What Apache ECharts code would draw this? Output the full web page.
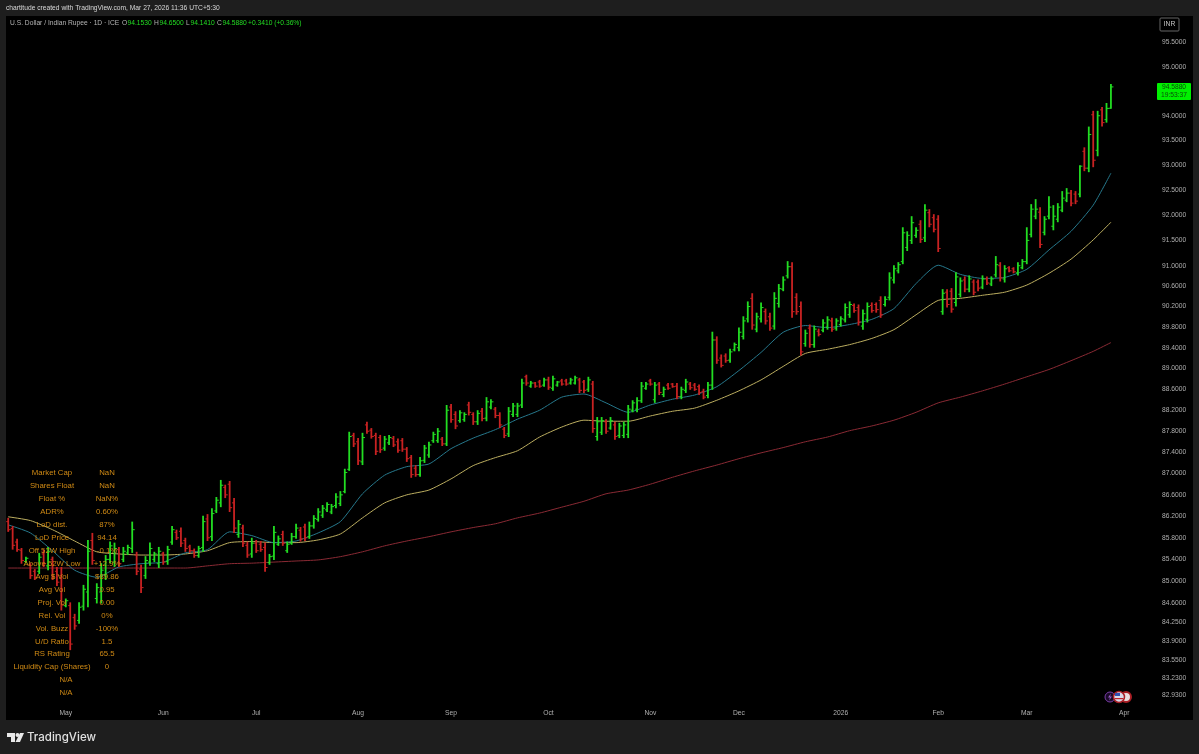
<!DOCTYPE html>
<html><head><meta charset="utf-8">
<style>html,body{margin:0;padding:0;background:#1e1e1e}#c{width:1199px;height:754px}</style>
<script src="https://cdn.jsdelivr.net/npm/echarts@6/dist/echarts.min.js"></script>
</head><body><div id="c"></div>
<script>
const categories = [
"Apr 14","Apr 15","Apr 16","Apr 17","Apr 18","Apr 21","Apr 22","Apr 23","Apr 24","Apr 25","Apr 28","Apr 29","Apr 30",
"May 1","May 2","May 5","May 6","May 7","May 8","May 9","May 12","May 13","May 14","May 15","May 16","May 19","May 20","May 21","May 22","May 23","May 26","May 27","May 28","May 29","May 30",
"Jun 2","Jun 3","Jun 4","Jun 5","Jun 6","Jun 9","Jun 10","Jun 11","Jun 12","Jun 13","Jun 16","Jun 17","Jun 18","Jun 19","Jun 20","Jun 23","Jun 24","Jun 25","Jun 26","Jun 27","Jun 30",
"Jul 1","Jul 2","Jul 3","Jul 4","Jul 7","Jul 8","Jul 9","Jul 10","Jul 11","Jul 14","Jul 15","Jul 16","Jul 17","Jul 18","Jul 21","Jul 22","Jul 23","Jul 24","Jul 25","Jul 28","Jul 29","Jul 30","Jul 31",
"Aug 1","Aug 4","Aug 5","Aug 6","Aug 7","Aug 8","Aug 11","Aug 12","Aug 13","Aug 14","Aug 15","Aug 18","Aug 19","Aug 20","Aug 21","Aug 22","Aug 25","Aug 26","Aug 27","Aug 28","Aug 29",
"Sep 1","Sep 2","Sep 3","Sep 4","Sep 5","Sep 8","Sep 9","Sep 10","Sep 11","Sep 12","Sep 15","Sep 16","Sep 17","Sep 18","Sep 19","Sep 22","Sep 23","Sep 24","Sep 25","Sep 26","Sep 29","Sep 30",
"Oct 1","Oct 2","Oct 3","Oct 6","Oct 7","Oct 8","Oct 9","Oct 10","Oct 13","Oct 14","Oct 15","Oct 16","Oct 17","Oct 20","Oct 21","Oct 22","Oct 23","Oct 24","Oct 27","Oct 28","Oct 29","Oct 30","Oct 31",
"Nov 3","Nov 4","Nov 5","Nov 6","Nov 7","Nov 10","Nov 11","Nov 12","Nov 13","Nov 14","Nov 17","Nov 18","Nov 19","Nov 20","Nov 21","Nov 24","Nov 25","Nov 26","Nov 27","Nov 28",
"Dec 1","Dec 2","Dec 3","Dec 4","Dec 5","Dec 8","Dec 9","Dec 10","Dec 11","Dec 12","Dec 15","Dec 16","Dec 17","Dec 18","Dec 19","Dec 22","Dec 23","Dec 24","Dec 25","Dec 26","Dec 29","Dec 30","Dec 31",
"Jan 1","Jan 2","Jan 5","Jan 6","Jan 7","Jan 8","Jan 9","Jan 12","Jan 13","Jan 14","Jan 15","Jan 16","Jan 19","Jan 20","Jan 21","Jan 22","Jan 23","Jan 26","Jan 27","Jan 28","Jan 29","Jan 30",
"Feb 2","Feb 3","Feb 4","Feb 5","Feb 6","Feb 9","Feb 10","Feb 11","Feb 12","Feb 13","Feb 16","Feb 17","Feb 18","Feb 19","Feb 20","Feb 23","Feb 24","Feb 25","Feb 26","Feb 27",
"Mar 2","Mar 3","Mar 4","Mar 5","Mar 6","Mar 9","Mar 10","Mar 11","Mar 12","Mar 13","Mar 16","Mar 17","Mar 18","Mar 19","Mar 20","Mar 23","Mar 24","Mar 25","Mar 26","Mar 27","Mar 30","Mar 31",
"Apr 1","Apr 2","Apr 3","Apr 6","Apr 7","Apr 8","Apr 9"];
const monthLabels = {"May 1":"May","Jun 2":"Jun","Jul 1":"Jul","Aug 1":"Aug","Sep 1":"Sep","Oct 1":"Oct","Nov 3":"Nov","Dec 1":"Dec","Jan 1":"2026","Feb 2":"Feb","Mar 2":"Mar","Apr 1":"Apr"};
const priceTicks = [95.5,95,94,93.5,93,92.5,92,91.5,91,90.6,90.2,89.8,89.4,89,88.6,88.2,87.8,87.4,87,86.6,86.2,85.8,85.4,85,84.6,84.25,83.9,83.55,83.23,82.93];
const highs = [
86.17,86.02,85.78,85.61,85.45,85.33,85.22,85.52,85.58,85.63,
85.45,85.26,85.26,84.68,84.61,84.40,84.61,84.93,85.76,85.89,
84.96,85.33,85.48,85.73,85.71,85.63,85.63,85.67,86.10,85.54,
85.30,85.46,85.71,85.54,85.63,85.54,85.65,86.02,85.95,85.99,
85.80,85.67,85.60,85.65,86.21,86.24,86.35,86.56,86.88,86.79,
86.86,86.54,86.13,86.04,85.73,85.80,85.76,85.74,85.71,85.50,
86.02,85.84,85.93,85.73,85.89,86.06,86.00,86.06,86.10,86.22,
86.35,86.41,86.46,86.43,86.63,86.67,87.09,87.79,87.77,87.67,
87.77,87.98,87.86,87.77,87.73,87.71,87.73,87.71,87.66,87.67,
87.50,87.35,87.16,87.31,87.54,87.60,87.79,87.86,87.69,88.30,
88.32,88.18,88.20,88.16,88.36,88.16,88.20,88.24,88.45,88.41,
88.26,88.16,87.88,88.26,88.34,88.34,88.80,88.88,88.76,88.74,
88.78,88.82,88.84,88.86,88.76,88.80,88.80,88.82,88.86,88.82,
88.78,88.84,88.76,88.07,88.07,88.03,88.07,87.98,87.96,87.98,
88.30,88.39,88.45,88.74,88.74,88.80,88.74,88.74,88.65,88.72,
88.72,88.72,88.65,88.80,88.74,88.72,88.69,88.61,88.74,89.71,
89.62,89.27,89.29,89.38,89.50,89.79,90.01,90.30,90.46,90.08,
90.28,90.16,90.08,90.48,90.64,90.79,91.09,91.07,90.46,90.30,
89.75,89.85,89.83,89.77,89.95,90.01,89.98,89.97,90.01,90.26,
90.30,90.26,90.24,90.14,90.28,90.28,90.28,90.40,90.40,90.87,
91.01,91.07,91.76,91.68,91.98,91.76,91.90,92.22,92.12,92.02,
92.00,90.54,90.54,90.56,90.87,90.77,90.79,90.81,90.73,90.73,
90.81,90.79,90.79,91.19,91.07,91.01,90.99,90.97,91.07,91.13,
91.76,92.22,92.32,92.16,91.98,92.38,92.20,92.24,92.48,92.54,
92.50,92.48,93.00,93.36,93.78,94.10,94.10,94.18,94.26,94.65];
const lows = [
85.91,85.58,85.54,85.32,85.33,85.04,85.02,85.13,85.26,85.20,
85.02,84.91,84.46,84.52,83.74,84.11,84.22,84.46,84.52,85.30,
84.59,84.59,85.02,85.33,85.26,85.26,85.35,85.48,85.52,85.11,
84.78,85.04,85.28,85.35,85.24,85.30,85.30,85.67,85.76,85.63,
85.54,85.52,85.43,85.43,85.54,85.74,85.74,86.26,86.37,86.54,
86.28,85.89,85.80,85.63,85.43,85.43,85.52,85.54,85.17,85.30,
85.39,85.65,85.65,85.52,85.67,85.78,85.73,85.74,85.78,85.97,
86.10,86.17,86.28,86.24,86.35,86.39,86.63,87.05,87.50,87.16,
87.16,87.75,87.66,87.35,87.39,87.43,87.54,87.50,87.39,87.41,
87.22,86.92,86.94,86.94,87.20,87.30,87.58,87.58,87.52,87.52,
87.96,87.84,87.96,87.98,88.10,87.92,87.92,87.99,87.99,88.22,
88.05,87.86,87.67,87.69,88.07,88.07,88.24,88.67,88.63,88.63,
88.63,88.65,88.59,88.57,88.65,88.67,88.67,88.69,88.69,88.53,
88.53,88.55,87.77,87.62,87.73,87.75,87.83,87.64,87.67,87.67,
87.67,88.16,88.16,88.34,88.59,88.67,88.34,88.49,88.45,88.59,
88.63,88.41,88.41,88.53,88.59,88.57,88.49,88.41,88.43,88.59,
89.09,89.02,89.11,89.11,89.33,89.33,89.56,89.89,89.75,89.70,
89.89,89.85,89.73,89.75,90.18,90.50,90.75,89.98,90.04,89.25,
89.42,89.40,89.40,89.62,89.70,89.75,89.71,89.73,89.81,89.89,
89.98,90.08,89.83,89.75,89.89,90.08,90.08,89.98,90.20,90.32,
90.65,90.85,91.03,91.29,91.43,91.55,91.45,91.47,91.76,91.66,
91.27,90.04,90.18,90.08,90.20,90.38,90.48,90.48,90.42,90.50,
90.54,90.62,90.60,90.77,90.69,90.67,90.87,90.85,90.81,90.93,
91.03,91.56,91.92,91.35,91.60,91.92,91.70,91.86,92.06,92.26,
92.18,92.22,92.36,92.88,92.86,92.96,93.18,93.78,93.86,94.141];
const opens = [
86.10,85.97,85.72,85.57,85.36,85.30,85.18,85.18,85.50,85.28,
85.40,85.18,85.10,84.55,84.55,84.33,84.28,84.54,84.80,85.75,
84.68,84.80,85.12,85.40,85.35,85.58,85.40,85.52,85.60,85.48,
85.22,85.10,85.35,85.40,85.32,85.50,85.36,85.72,85.90,85.92,
85.75,85.63,85.56,85.47,85.62,86.15,85.82,86.30,86.45,86.74,
86.80,86.45,85.86,85.98,85.66,85.50,85.70,85.68,85.62,85.34,
85.46,85.68,85.86,85.56,85.70,85.82,85.94,86.00,85.82,86.02,
86.14,86.22,86.32,86.28,86.40,86.44,86.66,87.08,87.72,87.60,
87.22,87.92,87.82,87.72,87.68,87.48,87.58,87.66,87.60,87.62,
87.46,87.30,87.10,86.98,87.25,87.35,87.62,87.62,87.65,87.56,
88.26,88.12,88.00,88.02,88.30,88.12,87.98,88.18,88.05,88.26,
88.22,88.10,87.84,87.75,88.12,88.12,88.30,88.84,88.66,88.72,
88.74,88.68,88.78,88.62,88.68,88.76,88.76,88.72,88.72,88.78,
88.74,88.60,88.70,87.70,87.78,87.98,87.86,87.92,87.72,87.72,
87.74,88.20,88.22,88.38,88.62,88.76,88.40,88.70,88.50,88.68,
88.70,88.66,88.46,88.58,88.70,88.68,88.65,88.56,88.48,88.68,
89.55,89.20,89.24,89.16,89.36,89.40,89.62,89.96,90.36,89.76,
89.96,90.10,90.00,89.82,90.26,90.54,90.80,90.98,90.38,90.20,
89.48,89.78,89.46,89.72,89.74,89.80,89.92,89.78,89.85,89.94,
90.04,90.22,90.18,89.82,89.95,90.22,90.24,90.32,90.24,90.38,
90.72,90.90,91.08,91.36,91.50,91.60,91.82,91.55,92.05,91.95,
91.92,90.10,90.48,90.50,90.28,90.44,90.72,90.54,90.68,90.68,
90.58,90.74,90.64,90.82,91.00,90.74,90.96,90.94,90.86,90.96,
91.08,91.62,91.98,92.06,91.66,91.98,91.78,91.92,92.10,92.30,
92.44,92.42,92.42,93.28,92.94,94.02,93.30,94.12,93.92,94.153];
const closes = [
85.95,85.66,85.58,85.38,85.42,85.10,85.06,85.44,85.32,85.55,
85.08,84.98,84.56,84.64,83.85,84.18,84.52,84.85,85.55,85.38,
84.88,85.20,85.40,85.65,85.60,85.32,85.55,85.62,85.95,85.18,
84.88,85.38,85.60,85.50,85.55,85.35,85.58,85.95,85.80,85.70,
85.60,85.56,85.47,85.60,86.10,85.80,86.25,86.50,86.78,86.60,
86.36,85.98,86.05,85.70,85.48,85.70,85.56,85.58,85.25,85.45,
85.90,85.78,85.70,85.68,85.82,85.98,85.78,85.80,86.02,86.16,
86.28,86.35,86.42,86.38,86.56,86.60,87.02,87.70,87.56,87.24,
87.68,87.80,87.70,87.42,87.45,87.65,87.68,87.54,87.44,87.46,
87.28,86.98,86.98,87.24,87.48,87.54,87.74,87.80,87.56,88.20,
88.02,87.90,88.15,88.12,88.16,87.98,88.14,88.04,88.36,88.36,
88.10,87.92,87.72,88.18,88.28,88.28,88.72,88.72,88.72,88.66,
88.66,88.78,88.64,88.80,88.74,88.70,88.70,88.78,88.82,88.58,
88.58,88.78,87.85,87.98,88.00,87.80,88.00,87.70,87.90,87.92,
88.22,88.34,88.38,88.66,88.70,88.70,88.68,88.54,88.60,88.62,
88.65,88.46,88.60,88.74,88.63,88.60,88.54,88.45,88.68,89.55,
89.16,89.06,89.15,89.32,89.46,89.70,89.92,90.20,89.84,90.00,
90.18,89.92,89.78,90.36,90.55,90.72,90.98,90.10,90.10,89.32,
89.68,89.46,89.76,89.66,89.88,89.94,89.76,89.92,89.96,90.18,
90.24,90.12,89.90,90.06,90.20,90.12,90.14,90.04,90.34,90.76,
90.94,91.02,91.65,91.60,91.85,91.70,91.52,92.10,91.82,91.72,
91.34,90.46,90.24,90.15,90.78,90.70,90.54,90.74,90.48,90.56,
90.74,90.66,90.74,91.02,90.76,90.94,90.90,90.88,91.00,91.08,
91.50,92.12,92.12,91.42,91.92,92.16,91.98,92.16,92.34,92.44,
92.24,92.28,92.98,92.94,93.62,93.10,94.00,93.86,94.15,94.588];
const maBars = [0,5,10,15,20,25,30,35,40,45,50,55,60,65,70,75,80,85,90,95,100,105,110,115,120,125,130,135,140,145,150,155,160,165,170,175,180,185,190,195,200,205,210,215,220,225,230,235,240,245,249];
const maFast = [86.04,85.89,85.56,85.20,85.07,85.26,85.32,85.35,85.52,85.58,85.91,85.84,85.71,85.74,85.89,86.10,86.62,86.97,87.13,87.18,87.47,87.67,87.83,88.03,88.20,88.45,88.51,88.34,88.16,88.30,88.41,88.49,88.65,88.96,89.31,89.70,89.83,89.79,89.85,89.95,90.16,90.65,91.01,90.83,90.75,90.77,90.93,91.31,91.68,92.20,92.84];
const maMid = [86.19,86.12,85.95,85.74,85.54,85.50,85.48,85.48,85.50,85.56,85.71,85.73,85.71,85.71,85.76,85.87,86.17,86.45,86.60,86.69,86.90,87.15,87.30,87.43,87.69,87.88,88.01,87.99,87.99,88.09,88.18,88.24,88.39,88.57,88.78,89.04,89.29,89.37,89.46,89.58,89.75,90.04,90.32,90.36,90.42,90.48,90.62,90.85,91.13,91.51,91.86];
const maSlow = [85.24,85.24,85.24,85.24,85.24,85.24,85.24,85.24,85.24,85.28,85.32,85.33,85.35,85.37,85.39,85.45,85.54,85.65,85.74,85.82,85.91,85.99,86.06,86.17,86.26,86.37,86.48,86.62,86.69,86.80,86.93,87.05,87.16,87.28,87.39,87.49,87.60,87.69,87.81,87.90,88.01,88.16,88.34,88.45,88.57,88.70,88.84,88.98,89.15,89.33,89.50];
const statLabels = ["Market Cap","Shares Float","Float %","ADR%","LoD dist.","LoD Price","Off 52W High","Above 52W Low","Avg $ Vol","Avg Vol","Proj. Vol","Rel. Vol","Vol. Buzz","U/D Ratio","RS Rating","Liquidity Cap (Shares)"];
const statValues = ["NaN","NaN","NaN%","0.60%","87%","94.14","-0.1%","+12.9%","$89.86","0.95","0.00","0%","-100%","1.5","65.5","0"];

const FONT = '"Liberation Sans", Arial, sans-serif';
const GREEN = '#22dd22', RED = '#c92222', ORANGE = '#d08a14';
const SMALL = '6.7px '+FONT;
const rows = highs.map((h,i)=>[i,opens[i],h,lows[i],closes[i]]);

function renderBar(params, api){
  const i = api.value(0);
  const o = api.coord([i, api.value(1)]), h = api.coord([i, api.value(2)]);
  const l = api.coord([i, api.value(3)]), c = api.coord([i, api.value(4)]);
  const color = api.value(4) >= api.value(1) ? GREEN : RED;
  return {type:'group', children:[
    {type:'line', shape:{x1:h[0],y1:h[1],x2:l[0],y2:l[1]}, style:{stroke:color,lineWidth:1.8,fill:null}},
    {type:'line', shape:{x1:o[0]-2,y1:o[1],x2:o[0],y2:o[1]}, style:{stroke:color,lineWidth:1}},
    {type:'line', shape:{x1:c[0],y1:c[1],x2:c[0]+2.5,y2:c[1]}, style:{stroke:color,lineWidth:1}}
  ]};
}
const maSeries = (vals,color)=>({type:'line',data:maBars.map((b,j)=>[b,vals[j]]),showSymbol:false,symbol:'none',smooth:0.2,
  lineStyle:{color,width:1},z:3,silent:true});
const txt = (x,y,text,fill,extra)=>({type:'text',z:20,style:Object.assign({x,y,text,fill,font:SMALL,verticalAlign:'middle'},extra||{})});

const graphics = [
  {type:'rect',z:-10,shape:{x:6,y:16,width:1187,height:704},style:{fill:'#000'}},
  txt(6,8.5,'chartitude created with TradingView.com, Mar 27, 2026 11:36 UTC+5:30','#d8d8d8'),
  txt(10,23.5,'U.S. Dollar / Indian Rupee · 1D · ICE','#b4b4b4'),
  txt(122,23.5,'O','#b4b4b4'), txt(127.5,23.5,'94.1530',GREEN),
  txt(154,23.5,'H','#b4b4b4'), txt(159.5,23.5,'94.6500',GREEN),
  txt(186,23.5,'L','#b4b4b4'), txt(190.5,23.5,'94.1410',GREEN),
  txt(217,23.5,'C','#b4b4b4'), txt(222.5,23.5,'94.5880',GREEN),
  txt(248,23.5,'+0.3410 (+0.36%)',GREEN),
  {type:'rect',z:20,shape:{x:1160,y:18,width:19,height:13,r:1},style:{fill:'#000',stroke:'#666',lineWidth:1}},
  Object.assign(txt(1169.5,24.5,'INR','#c8c8c8',{align:'center'}),{z:21}),
  {type:'rect',z:20,shape:{x:1157,y:83,width:34,height:17,r:1},style:{fill:'#00f000'}},
  Object.assign(txt(1174,87.5,'94.5880','#0a4a0a',{align:'center'}),{z:21}),
  Object.assign(txt(1174,95.5,'19:53:37','#0a4a0a',{align:'center'}),{z:21}),
  // provider logo
  {type:'polygon',z:20,shape:{points:[[7,733],[15,733],[15,742],[11,742],[11,737],[7,737]]},style:{fill:'#e8e8e8'}},
  {type:'circle',z:20,shape:{cx:17.5,cy:735,r:2},style:{fill:'#e8e8e8'}},
  {type:'polygon',z:20,shape:{points:[[20,733],[24,733],[20,742],[15.5,742]]},style:{fill:'#e8e8e8'}},
  {type:'text',z:20,style:{x:27,y:737.5,text:'TradingView',fill:'#e0e0e0',font:'500 11.5px Inter, '+FONT,verticalAlign:'middle'}},
  // exchange badges
  {type:'circle',z:20,shape:{cx:1110,cy:697,r:5},style:{fill:'#1a0a28',stroke:'#7a3ea8',lineWidth:1}},
  {type:'polygon',z:21,shape:{points:[[1111,693.5],[1108,697.5],[1110,697.5],[1109,700.5],[1112,696.5],[1110,696.5]]},style:{fill:'#9a5cc8'}},
  {type:'circle',z:21,shape:{cx:1126,cy:697,r:5},style:{fill:'#e8dede',stroke:'#a81e24',lineWidth:2}},
  {type:'circle',z:22,shape:{cx:1119,cy:697,r:5.5},style:{fill:'#d8d8e8',stroke:'#a81e24',lineWidth:1.5}},
  {type:'rect',z:23,shape:{x:1115,y:693,width:5,height:3},style:{fill:'#3050b0'}},
  {type:'rect',z:23,shape:{x:1114.5,y:698,width:9,height:1.2},style:{fill:'#c02028'}},
];
const rowY = [473,486,499,512,525,538,551,564,577,589.5,603,615.5,628.5,641.5,654,667];
const statFont = '7.8px '+FONT;
statLabels.forEach((t,i)=>{
  graphics.push({type:'text',z:30,style:{x:52,y:rowY[i],text:t,fill:ORANGE,font:statFont,align:'center',verticalAlign:'middle'}});
  graphics.push({type:'text',z:30,style:{x:107,y:rowY[i],text:statValues[i],fill:ORANGE,font:statFont,align:'center',verticalAlign:'middle'}});
});
[680,693].forEach(y=>graphics.push({type:'text',z:30,style:{x:66,y,text:'N/A',fill:ORANGE,font:statFont,align:'center',verticalAlign:'middle'}}));

const chart = echarts.init(document.getElementById('c'),null,{renderer:'canvas'});
chart.setOption({
  animation:false,
  backgroundColor:'#1e1e1e',
  grid:{left:6,top:16,width:1147,height:688,containLabel:false},
  xAxis:{type:'category',data:categories,boundaryGap:true,
    axisLine:{show:false},axisTick:{show:false},splitLine:{show:false},
    axisLabel:{color:'#b0b0b0',fontSize:6.7,fontFamily:FONT,margin:6,
      interval:(idx,val)=>val in monthLabels,
      formatter:val=>monthLabels[val]||''}},
  yAxis:{type:'log',position:'right',min:82.77,max:96.05,
    axisLine:{show:false},axisTick:{show:false},splitLine:{show:false},
    axisLabel:{color:'#b0b0b0',fontSize:6.7,fontFamily:FONT,margin:9,customValues:priceTicks,
      formatter:v=>Number(v).toFixed(4)}},
  graphic:{elements:graphics},
  series:[
    maSeries(maSlow,'#8a2a34'),
    maSeries(maMid,'#bcae60'),
    maSeries(maFast,'#26788c'),
    {type:'custom',renderItem:renderBar,data:rows,encode:{x:0,y:[1,2,3,4]},z:4,silent:true,clip:false}
  ]
});
</script></body></html>
